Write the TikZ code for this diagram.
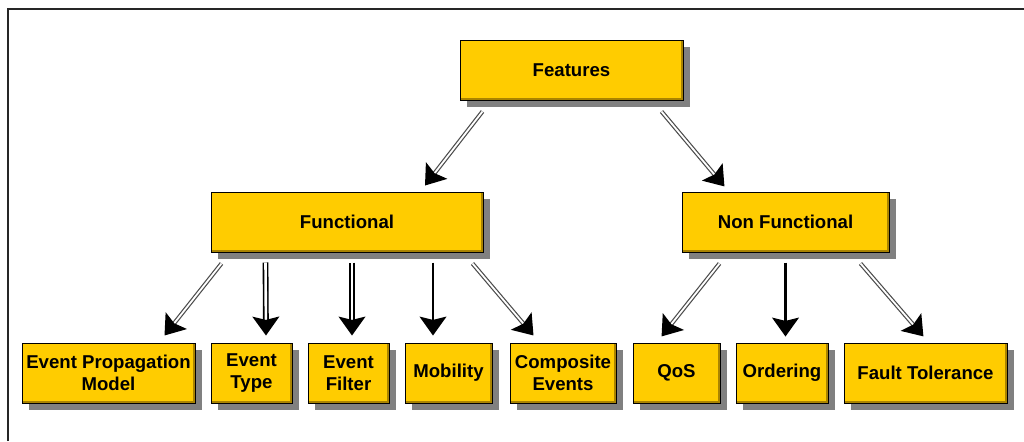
\documentclass[tikz,border=0pt]{standalone}
\usepackage{fontspec}
\setmainfont{Liberation Sans}
\usetikzlibrary{calc, shadows, decorations.markings}

\definecolor{boxgold}{RGB}{255,204,0}
\definecolor{boxedge}{RGB}{170,132,0}
\definecolor{shadowgray}{RGB}{128,128,128}

\begin{document}
\begin{tikzpicture}[
        x=0.5pt, y=-0.5pt,
        feature/.style={
            draw=black, line width=0.5pt, fill=boxgold,
            general shadow={fill=shadowgray, shadow xshift=3.3pt, shadow yshift=-3.3pt},
            path picture={
                \draw[boxedge, line width=2pt]
                    (path picture bounding box.north east) |- (path picture bounding box.south west);
            },
            minimum height=30pt, inner sep=0pt, align=center,
            font=\fontsize{9.3}{11}\selectfont\bfseries
        },
        headmark/.style={
            decoration={
                markings,% filled head at the end of the shaft
                mark=at position 1 with
                {
                    \fill[black] (0pt,0pt) -- (-9.5pt,6.8pt) -- (-7.8pt,0pt) -- (-9.5pt,-6.8pt) -- cycle;
                }
            },
            postaction=decorate
        },
        link/.style={draw=black!70, line width=0.6pt, double=white, double distance=0.9pt, shorten >=7pt, headmark},
        twin link/.style={draw=black, line width=0.8pt, double=white, double distance=1.3pt, shorten >=7pt, headmark},
        solid link/.style={draw=black, line width=1.3pt, shorten >=7pt, headmark}
    ]
    \useasboundingbox (0,0) rectangle (1024,441);
    \draw[line width=1pt, black!85] (8,441) -- (8,9) -- (1024,9);

    % top and second level
    \node[feature, minimum width=111.5pt] (feat) at (571.5,70) {Features};
    \node[feature, minimum width=136pt] (func) at (347,222) {Functional};
    \node[feature, minimum width=103.5pt] (nonfunc) at (785.5,222) {Non Functional};

    % leaves
    \node[feature, minimum width=86.5pt] (epm) at (108.5,373) {Event Propagation\\Model};
    \node[feature, minimum width=40.5pt] (etype) at (251.5,373) {Event\\Type};
    \node[feature, minimum width=40.5pt] (efilter) at (348.5,373) {Event\\Filter};
    \node[feature, minimum width=43.5pt] (mob) at (448.5,373) {Mobility};
    \node[feature, minimum width=53pt] (comp) at (563,373) {Composite\\Events};
    \node[feature, minimum width=43.5pt] (qos) at (676.5,373) {QoS};
    \node[feature, minimum width=46pt] (ord) at (782,373) {Ordering};
    \node[feature, minimum width=81.5pt] (fault) at (925.5,373) {Fault Tolerance};

    \draw[link] ($(feat.south west)+(23,11)$) -- ($(func.north)+(78,-6)$);
    \draw[link] ($(feat.south east)+(-22,11)$) -- ($(nonfunc.north west)+(43,-5)$);

    \draw[link] ($(func.south west)+(11,11)$) -- ($(epm.north east)+(-31,-7)$);
    \draw[twin link] ($(func.south west)+(55,10)$) -- ($(etype.north)+(14.5,-7)$);
    \draw[twin link] ($(func.south)+(5,10)$) -- ($(efilter.north)+(3.5,-7)$);
    \draw[solid link] ($(func.south)+(86,10)$) -- ($(mob.north)+(-15.5,-7)$);
    \draw[link] ($(func.south east)+(-11,11)$) -- ($(comp.north west)+(24,-7)$);

    \draw[link] ($(nonfunc.south west)+(38,11)$) -- ($(qos.north west)+(29,-6)$);
    \draw[solid link] ($(nonfunc.south)+(0,10)$) -- ($(ord.north)+(3.5,-6)$);
    \draw[link] ($(nonfunc.south east)+(-29,11)$) -- ($(fault.north)+(-2,-6)$);
\end{tikzpicture}
\end{document}
